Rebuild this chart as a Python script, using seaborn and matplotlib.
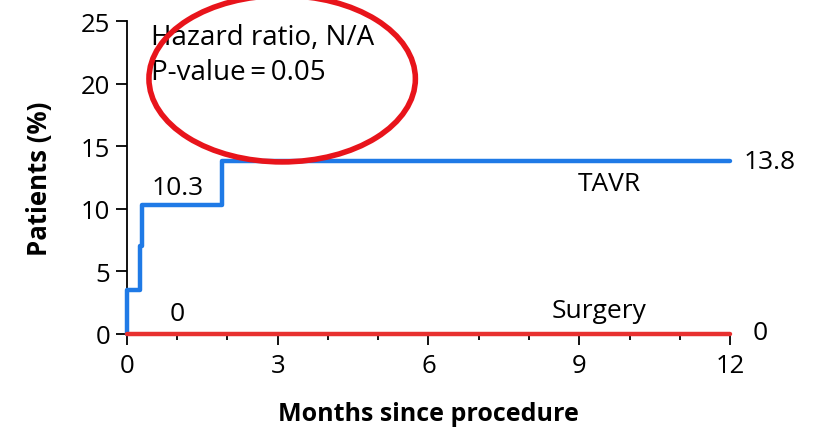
import matplotlib
matplotlib.use("Agg")
import matplotlib.pyplot as plt
import seaborn as sns
import pandas as pd
from matplotlib.patches import Ellipse

# Data
tavr_months = [0, 0, 0.27, 0.30, 1.9, 12]
tavr_pct = [0, 3.5, 7.0, 10.3, 13.8, 13.8]
surgery_months = [0, 12]
surgery_pct = [0, 0]
x_ticks = [0, 3, 6, 9, 12]
y_ticks = [0, 5, 10, 15, 20, 25]

sns.set_style("ticks")
plt.rcParams['font.family'] = ['Open Sans', 'DejaVu Sans']
plt.rcParams['text.color'] = 'black'

BLUE = "#1f7ae6"
RED = "#e8302f"

fig = plt.figure(figsize=(8.13, 4.35), dpi=100)
ax = fig.add_axes([0.156, 0.230, 0.742, 0.719])

df_t = pd.DataFrame({"Months": tavr_months, "Pct": tavr_pct})
df_s = pd.DataFrame({"Months": surgery_months, "Pct": surgery_pct})

sns.lineplot(data=df_t, x="Months", y="Pct", drawstyle="steps-post", color=BLUE,
             linewidth=3.2, ax=ax, clip_on=False, zorder=3, estimator=None, sort=False)
sns.lineplot(data=df_s, x="Months", y="Pct", color=RED, linewidth=3.2, ax=ax,
             clip_on=False, zorder=4, estimator=None, sort=False)

ax.set_xlim(0, 12)
ax.set_ylim(0, 25)
ax.set_xticks(x_ticks)
ax.set_xticks(range(0, 13), minor=True)
ax.set_yticks(y_ticks)
ax.tick_params(axis="both", which="major", labelsize=18.5, length=8, width=1.3,
               color="black", labelcolor="black")
ax.tick_params(axis="x", which="major", pad=6)
ax.tick_params(axis="y", which="major", pad=4)
ax.tick_params(axis="x", which="minor", length=4, width=1.3, color="black")
for s in ["top", "right"]:
    ax.spines[s].set_visible(False)
for s in ["left", "bottom"]:
    ax.spines[s].set_linewidth(1.3)
    ax.spines[s].set_color("black")

ax.set_xlabel("Months since procedure", fontsize=18, fontweight="bold", labelpad=16,
              color="black")
ax.set_ylabel("Patients (%)", fontsize=18.5, fontweight="bold", labelpad=20, color="black")

fs = 19
ax.text(0.5, 11.7, "10.3", fontsize=fs, ha="left", va="center")
ax.text(1.0, 1.6, "0", fontsize=fs, ha="center", va="center")
ax.text(12.26, 13.8, "13.8", fontsize=fs, ha="left", va="center")
ax.text(12.6, 0.1, "0", fontsize=fs, ha="center", va="center")
ax.text(9.6, 12.0, "TAVR", fontsize=fs, ha="center", va="center")
ax.text(9.4, 1.9, "Surgery", fontsize=fs, ha="center", va="center")

ax.text(0.48, 23.7, "Hazard ratio, N/A", fontsize=20, ha="left", va="center")
ax.text(0.48, 20.9, "P-value\u2009=\u20090.05", fontsize=20, ha="left", va="center")

ell = Ellipse((3.09, 20.4), width=5.3, height=13.3, fill=False, edgecolor="#e8141b",
              linewidth=4, clip_on=False, zorder=5)
ax.add_patch(ell)

fig.savefig("out.png", dpi=100)
